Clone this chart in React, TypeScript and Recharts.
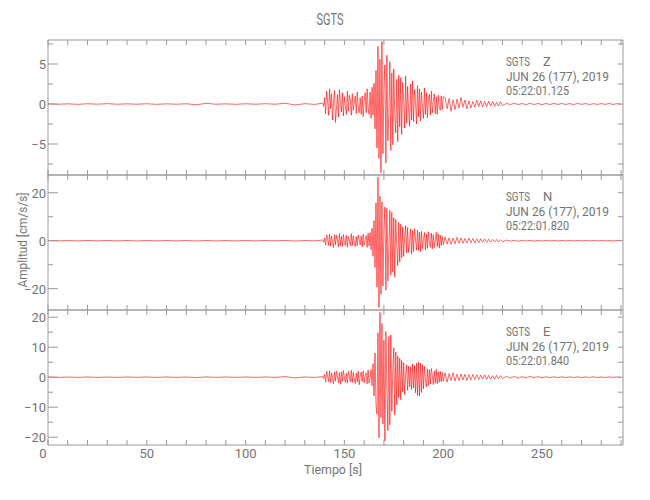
import React from "react";
import { LineChart, Line, XAxis, YAxis } from "recharts";

// Sample grid of each trace: sparse before the event, dense through it, looser in the coda.
const PRE = { t0: 0, dt: 5 };
const BURST = { t0: 139, dt: 0.5 };
const CODA = { t0: 201, dt: 1 };
const TAIL = { t0: 232, dt: 2 };

const xTicks = [0, 10, 20, 30, 40, 50, 60, 70, 80, 90, 100, 110, 120, 130, 140, 150, 160, 170, 180, 190, 200, 210, 220, 230, 240, 250, 260, 270, 280, 290];
const xLabels = [0, 50, 100, 150, 200, 250];

// --- Z component (cm/s/s)
const zPre = [0.03, -0.03, 0.02, -0.04, 0.03, -0.02, 0.04, -0.03, 0.02, -0.03, 0.03, -0.04, 0.02, -0.03, 0.03, -0.1, 0.08, -0.03, 0.02, -0.04, 0.03, -0.03, 0.04, -0.03, 0.1, -0.12, 0.04, -0.05];
const zBurst = [
  0.1, -0.3, 0.8, -1.2, 1.6, 0.4, -1.4, 1.9, -0.6, 1.3, -2.0, 0.2, 1.7, -2.3, -0.5, 1.2, -1.6, 1.8, 0.3, -1.0,
  1.4, -1.5, 0.9, -0.2, -1.3, 1.6, -0.9, 1.1, 0.5, -1.4, 1.3, -0.8, 0.2, 1.0, -1.2, 1.5, -0.4, -1.1, 0.8, -1.3,
  1.0, -1.6, 0.3, 1.4, -1.1, 1.9, -0.4, -1.3, 1.5, -1.8, 2.1, -1.4, 2.6, -3.1, 4.2, -5.5, 7.2, -6.8, 5.6, -8.6,
  7.8, -6.2, 2.1, 4.9, -7.4, 6.1, -4.6, -1.2, 5.3, -5.8, 3.9, -5.1, 4.4, -1.5, -3.6, 3.1, -4.7, 3.6, -2.9, 3.3,
  -3.8, 2.7, 0.6, -3.0, 3.5, -2.4, 2.2, -0.8, -2.8, 2.5, -2.0, 2.9, -2.2, 1.8, 0.4, -2.5, 2.3, -1.6, 1.9, -2.1,
  1.5, -0.3, -1.8, 2.0, -1.3, 1.4, -1.7, 0.5, 1.2, -1.4, 1.6, -1.1, 0.2, 1.3, -1.2, 0.9, -1.3, 1.1, -0.4, -0.8,
  1.0, -0.7, 0.9,
];
const zCoda = [0.8, -0.6, 0.7, -0.9, 0.5, -0.7, 0.6, -0.5, 0.8, -0.4, 0.5, -0.6, 0.4, -0.5, 0.3, -0.4, 0.5, -0.3, 0.4, -0.4, 0.3, -0.3, 0.35, -0.25, 0.3, -0.3, 0.2, -0.25, 0.3, -0.2];
const zTail = [0.08, -0.07, 0.09, -0.08, 0.07, -0.08, 0.08, -0.07, 0.07, -0.08, 0.07, -0.07, 0.08, -0.06, 0.07, -0.07, 0.06, -0.07, 0.07, -0.05, 0.06, -0.07, 0.05, -0.06, 0.06, -0.05, 0.06, -0.06, 0.05, -0.05];

// --- N component
const nPre = [0.08, -0.08, 0.06, -0.08, 0.08, -0.06, 0.08, -0.08, 0.06, -0.08, 0.08, -0.08, 0.06, -0.08, 0.08, -0.12, 0.1, -0.08, 0.06, -0.08, 0.08, -0.08, 0.08, -0.06, 0.12, -0.15, 0.08, -0.08];
const nBurst = [
  0.3, -0.6, 1.2, -1.8, 2.4, 0.5, -2.0, 2.8, -2.3, 1.9, -0.7, -2.9, 2.5, -1.7, 2.2, 0.4, -2.6, 3.0, -2.1, 1.8,
  -2.4, 2.6, -0.8, -1.9, 2.3, -2.7, 1.7, 0.3, -2.2, 2.9, -2.0, 2.1, -0.6, -2.5, 1.8, -2.1, 2.4, 0.6, -1.8, 2.0,
  -2.6, 2.7, -1.9, 0.4, 2.2, -2.8, 3.1, -2.2, 3.4, -3.8, 5.2, -6.5, 8.4, -11.2, 15.8, -19.4, 26.5, -27.8, 18.6, -22.3,
  16.2, -18.9, 4.5, 14.1, -20.6, 13.5, -16.8, -3.2, 12.7, -14.2, 11.8, -13.1, 9.6, -15.2, 8.9, -2.4, -10.4, 7.6, -8.8, 6.9,
  -7.2, 5.8, -6.5, 1.3, 6.3, -5.1, 5.5, -4.8, -0.9, 4.9, -5.6, 4.2, -4.5, 5.1, 0.8, -3.9, 4.4, -4.1, 3.6, -4.6,
  3.9, -3.3, 0.5, 3.4, -3.7, 2.9, -3.2, 3.8, -0.6, -2.8, 3.2, -3.5, 2.6, -2.9, 0.4, 3.5, -2.4, 2.8, -3.1, 2.3,
  -2.0, 1.8, -1.6,
];
const nCoda = [1.6, -1.4, 1.2, -1.5, 1.1, -1.3, 1.4, -1.0, 1.2, -1.1, 0.9, -1.0, 1.1, -0.8, 0.9, -0.9, 0.7, -0.8, 0.8, -0.6, 0.7, -0.7, 0.6, -0.6, 0.5, -0.6, 0.5, -0.5, 0.4, -0.5];
const nTail = [0.25, -0.2, 0.2, -0.25, 0.2, -0.15, 0.15, -0.2, 0.15, -0.15, 0.15, -0.12, 0.12, -0.15, 0.12, -0.12, 0.12, -0.1, 0.12, -0.08, 0.1, -0.1, 0.08, -0.1, 0.1, -0.08, 0.08, -0.08, 0.1, -0.08];

// --- E component
const ePre = [0.08, -0.08, 0.06, -0.08, 0.08, -0.08, 0.06, -0.08, 0.08, -0.06, 0.08, -0.08, 0.08, -0.08, 0.06, -0.15, 0.12, -0.08, 0.08, -0.06, 0.08, -0.08, 0.08, -0.08, 0.2, -0.22, 0.08, -0.08];
const eBurst = [
  0.2, -0.5, 1.0, -1.6, 1.9, 0.3, -1.5, 2.1, -1.8, 1.4, -0.4, -2.2, 1.7, -1.3, 2.0, 0.5, -1.9, 1.5, -2.4, 1.8,
  -1.4, 2.2, -0.3, -1.7, 1.3, -2.0, 1.9, 0.4, -1.5, 2.3, -1.8, 1.6, -0.6, -2.1, 1.4, -1.6, 2.0, -2.5, 0.3, 1.7,
  -1.4, 2.1, -1.9, 0.5, 1.5, -2.2, 2.4, -2.0, -0.4, 2.6, -2.9, 4.5, -6.2, 8.1, -9.4, -12.3, 14.8, -20.2, 21.6, -13.5,
  17.9, -15.6, 12.4, -21.3, 15.2, -3.1, -17.8, 13.6, -15.9, 14.1, -11.4, 2.2, 9.8, -12.6, 8.4, -9.2, 7.1, -6.8, 6.4, -7.5,
  5.6, -4.9, 4.8, -5.8, 0.9, 4.1, -4.4, 3.7, -3.2, 3.4, -4.1, 4.5, -3.6, 3.9, -5.2, 4.6, -6.1, 5.0, -6.3, 4.7,
  -5.1, 4.2, -3.9, 3.6, -0.5, -3.2, 2.8, -2.7, 2.5, -2.3, 2.9, 0.4, -2.5, 2.1, -2.0, 2.6, -2.2, 1.8, -1.7, 2.0,
  -1.5, 1.6, -1.3,
];
const eCoda = [1.4, -1.6, 1.2, -1.1, 1.5, -1.3, 1.0, -1.2, 1.1, -0.9, 1.0, -1.1, 0.8, -0.9, 0.9, -0.7, 0.8, -0.8, 0.7, -0.6, 0.8, -0.7, 0.6, -0.6, 0.5, -0.7, 0.6, -0.5, 0.5, -0.5];
const eTail = [0.3, -0.25, 0.25, -0.3, 0.2, -0.25, 0.25, -0.2, 0.2, -0.25, 0.15, -0.15, 0.15, -0.15, 0.15, -0.15, 0.12, -0.12, 0.12, -0.12, 0.12, -0.1, 0.12, -0.1, 0.08, -0.1, 0.1, -0.08, 0.08, -0.08];

const FONT = "Roboto, 'DejaVu Sans', sans-serif";
const INK = "#747474";
const FRAME = "#9a9a9a";

function seg(g: { t0: number; dt: number }, vals: number[]) {
  return vals.map((v, i) => ({ t: +(g.t0 + i * g.dt).toFixed(2), v }));
}

function trace(pre: number[], burst: number[], coda: number[], tail: number[]) {
  return [...seg(PRE, pre), ...seg(BURST, burst), ...seg(CODA, coda), ...seg(TAIL, tail)];
}

const fmt = (v: number) => (v < 0 ? "\u2212" + Math.abs(v) : String(v));

interface PanelProps {
  data: { t: number; v: number }[];
  top: number;
  bottom: number;
  domain: [number, number];
  yTicks: number[];
  yMajor: number;
  comp: string;
  time: string;
  showX?: boolean;
}

function Panel({ data, top, bottom, domain, yTicks, yMajor, comp, time, showX }: PanelProps) {
  const leftTick = (p: any) => {
    const v = p.payload.value;
    const major = Math.abs(v % yMajor) < 1e-6;
    return (
      <g>
        <line x1={p.x} x2={p.x + (major ? 10 : 5)} y1={p.y} y2={p.y} stroke={FRAME} />
        {major && (
          <text x={p.x - 2} y={p.y + 5} textAnchor="end" fill={INK} fontSize={13} fontFamily={FONT}>
            {fmt(v)}
          </text>
        )}
      </g>
    );
  };
  const rightTick = (p: any) => <line x1={p.x} x2={p.x - 5} y1={p.y} y2={p.y} stroke={FRAME} />;
  const topTick = (p: any) => <line x1={p.x} x2={p.x} y1={p.y} y2={p.y + 5} stroke={FRAME} />;
  const bottomTick = (p: any) => {
    const v = p.payload.value;
    return (
      <g>
        <line x1={p.x} x2={p.x} y1={p.y} y2={p.y - 5} stroke={FRAME} />
        {showX && xLabels.includes(v) && (
          <text x={v === 0 ? p.x - 5 : p.x} y={p.y + 13} textAnchor="middle" fill={INK} fontSize={13} fontFamily={FONT}>
            {v}
          </text>
        )}
      </g>
    );
  };

  // axes are 1px thick so recharts draws them; margins absorb that pixel
  return (
    <div style={{ position: "absolute", left: 0, top: 0 }}>
      <LineChart width={650} height={500} data={data} margin={{ top: top - 1, bottom: 500 - bottom - 1, left: 47, right: 26 }}>
        <XAxis xAxisId="b" dataKey="t" type="number" domain={[0, 291]} allowDataOverflow ticks={xTicks} interval={0}
          orientation="bottom" height={1} tickSize={0} tickMargin={0} tickLine={false} axisLine={{ stroke: FRAME }} tick={bottomTick} />
        <XAxis xAxisId="t" dataKey="t" type="number" domain={[0, 291]} allowDataOverflow ticks={xTicks} interval={0}
          orientation="top" height={1} tickSize={0} tickMargin={0} tickLine={false} axisLine={{ stroke: FRAME }} tick={topTick} />
        <YAxis yAxisId="l" dataKey="v" type="number" domain={domain} allowDataOverflow ticks={yTicks} interval={0}
          width={1} tickSize={0} tickMargin={0} tickLine={false} axisLine={{ stroke: FRAME }} tick={leftTick} />
        <YAxis yAxisId="r" dataKey="v" type="number" domain={domain} allowDataOverflow ticks={yTicks} interval={0}
          orientation="right" width={1} tickSize={0} tickMargin={0} tickLine={false} axisLine={{ stroke: FRAME }} tick={rightTick} />
        <Line xAxisId="b" yAxisId="l" dataKey="v" type="linear" dot={false} stroke="#ff0000" strokeWidth={0.6} isAnimationActive={false} />
      </LineChart>
      <svg width={650} height={500} style={{ position: "absolute", left: 0, top: 0, pointerEvents: "none" }}>
        <g fill={INK} fontSize={13} fontFamily={FONT}>
          <text x={506} y={top + 26} textLength={24} lengthAdjust="spacingAndGlyphs">SGTS</text>
          <text x={543} y={top + 26}>{comp}</text>
          <text x={506} y={top + 40.5} textLength={103} lengthAdjust="spacingAndGlyphs">JUN 26 (177), 2019</text>
          <text x={506} y={top + 55} textLength={63} lengthAdjust="spacingAndGlyphs">{time}</text>
        </g>
      </svg>
    </div>
  );
}

export default function App() {
  return (
    <div style={{ position: "absolute", left: 0, top: 0, width: 650, height: 500, background: "#fff" }}>
      <Panel data={trace(zPre, zBurst, zCoda, zTail)} top={40} bottom={175} domain={[-8.875, 8]}
        yTicks={[-7.5, -5, -2.5, 0, 2.5, 5, 7.5]} yMajor={5} comp="Z" time="05:22:01.125" />
      <Panel data={trace(nPre, nBurst, nCoda, nTail)} top={175} bottom={310} domain={[-28.9, 27.4]}
        yTicks={[-20, -10, 0, 10, 20]} yMajor={20} comp="N" time="05:22:01.820" />
      <Panel data={trace(ePre, eBurst, eCoda, eTail)} top={310} bottom={445} domain={[-22.6, 22.4]}
        yTicks={[-20, -15, -10, -5, 0, 5, 10, 15, 20]} yMajor={10} comp="E" time="05:22:01.840" showX />
      <svg width={650} height={500} style={{ position: "absolute", left: 0, top: 0, pointerEvents: "none" }}>
        <g fill={INK} fontFamily={FONT}>
          <text x={330} y={25} textAnchor="middle" fontSize={17} textLength={27} lengthAdjust="spacingAndGlyphs">SGTS</text>
          <text x={333} y={474} textAnchor="middle" fontSize={13} textLength={58} lengthAdjust="spacingAndGlyphs">Tiempo [s]</text>
          <text x={27} y={240} textAnchor="middle" fontSize={13} textLength={95} lengthAdjust="spacingAndGlyphs"
            transform="rotate(-90 27 240)">Amplitud [cm/s/s]</text>
        </g>
      </svg>
    </div>
  );
}
